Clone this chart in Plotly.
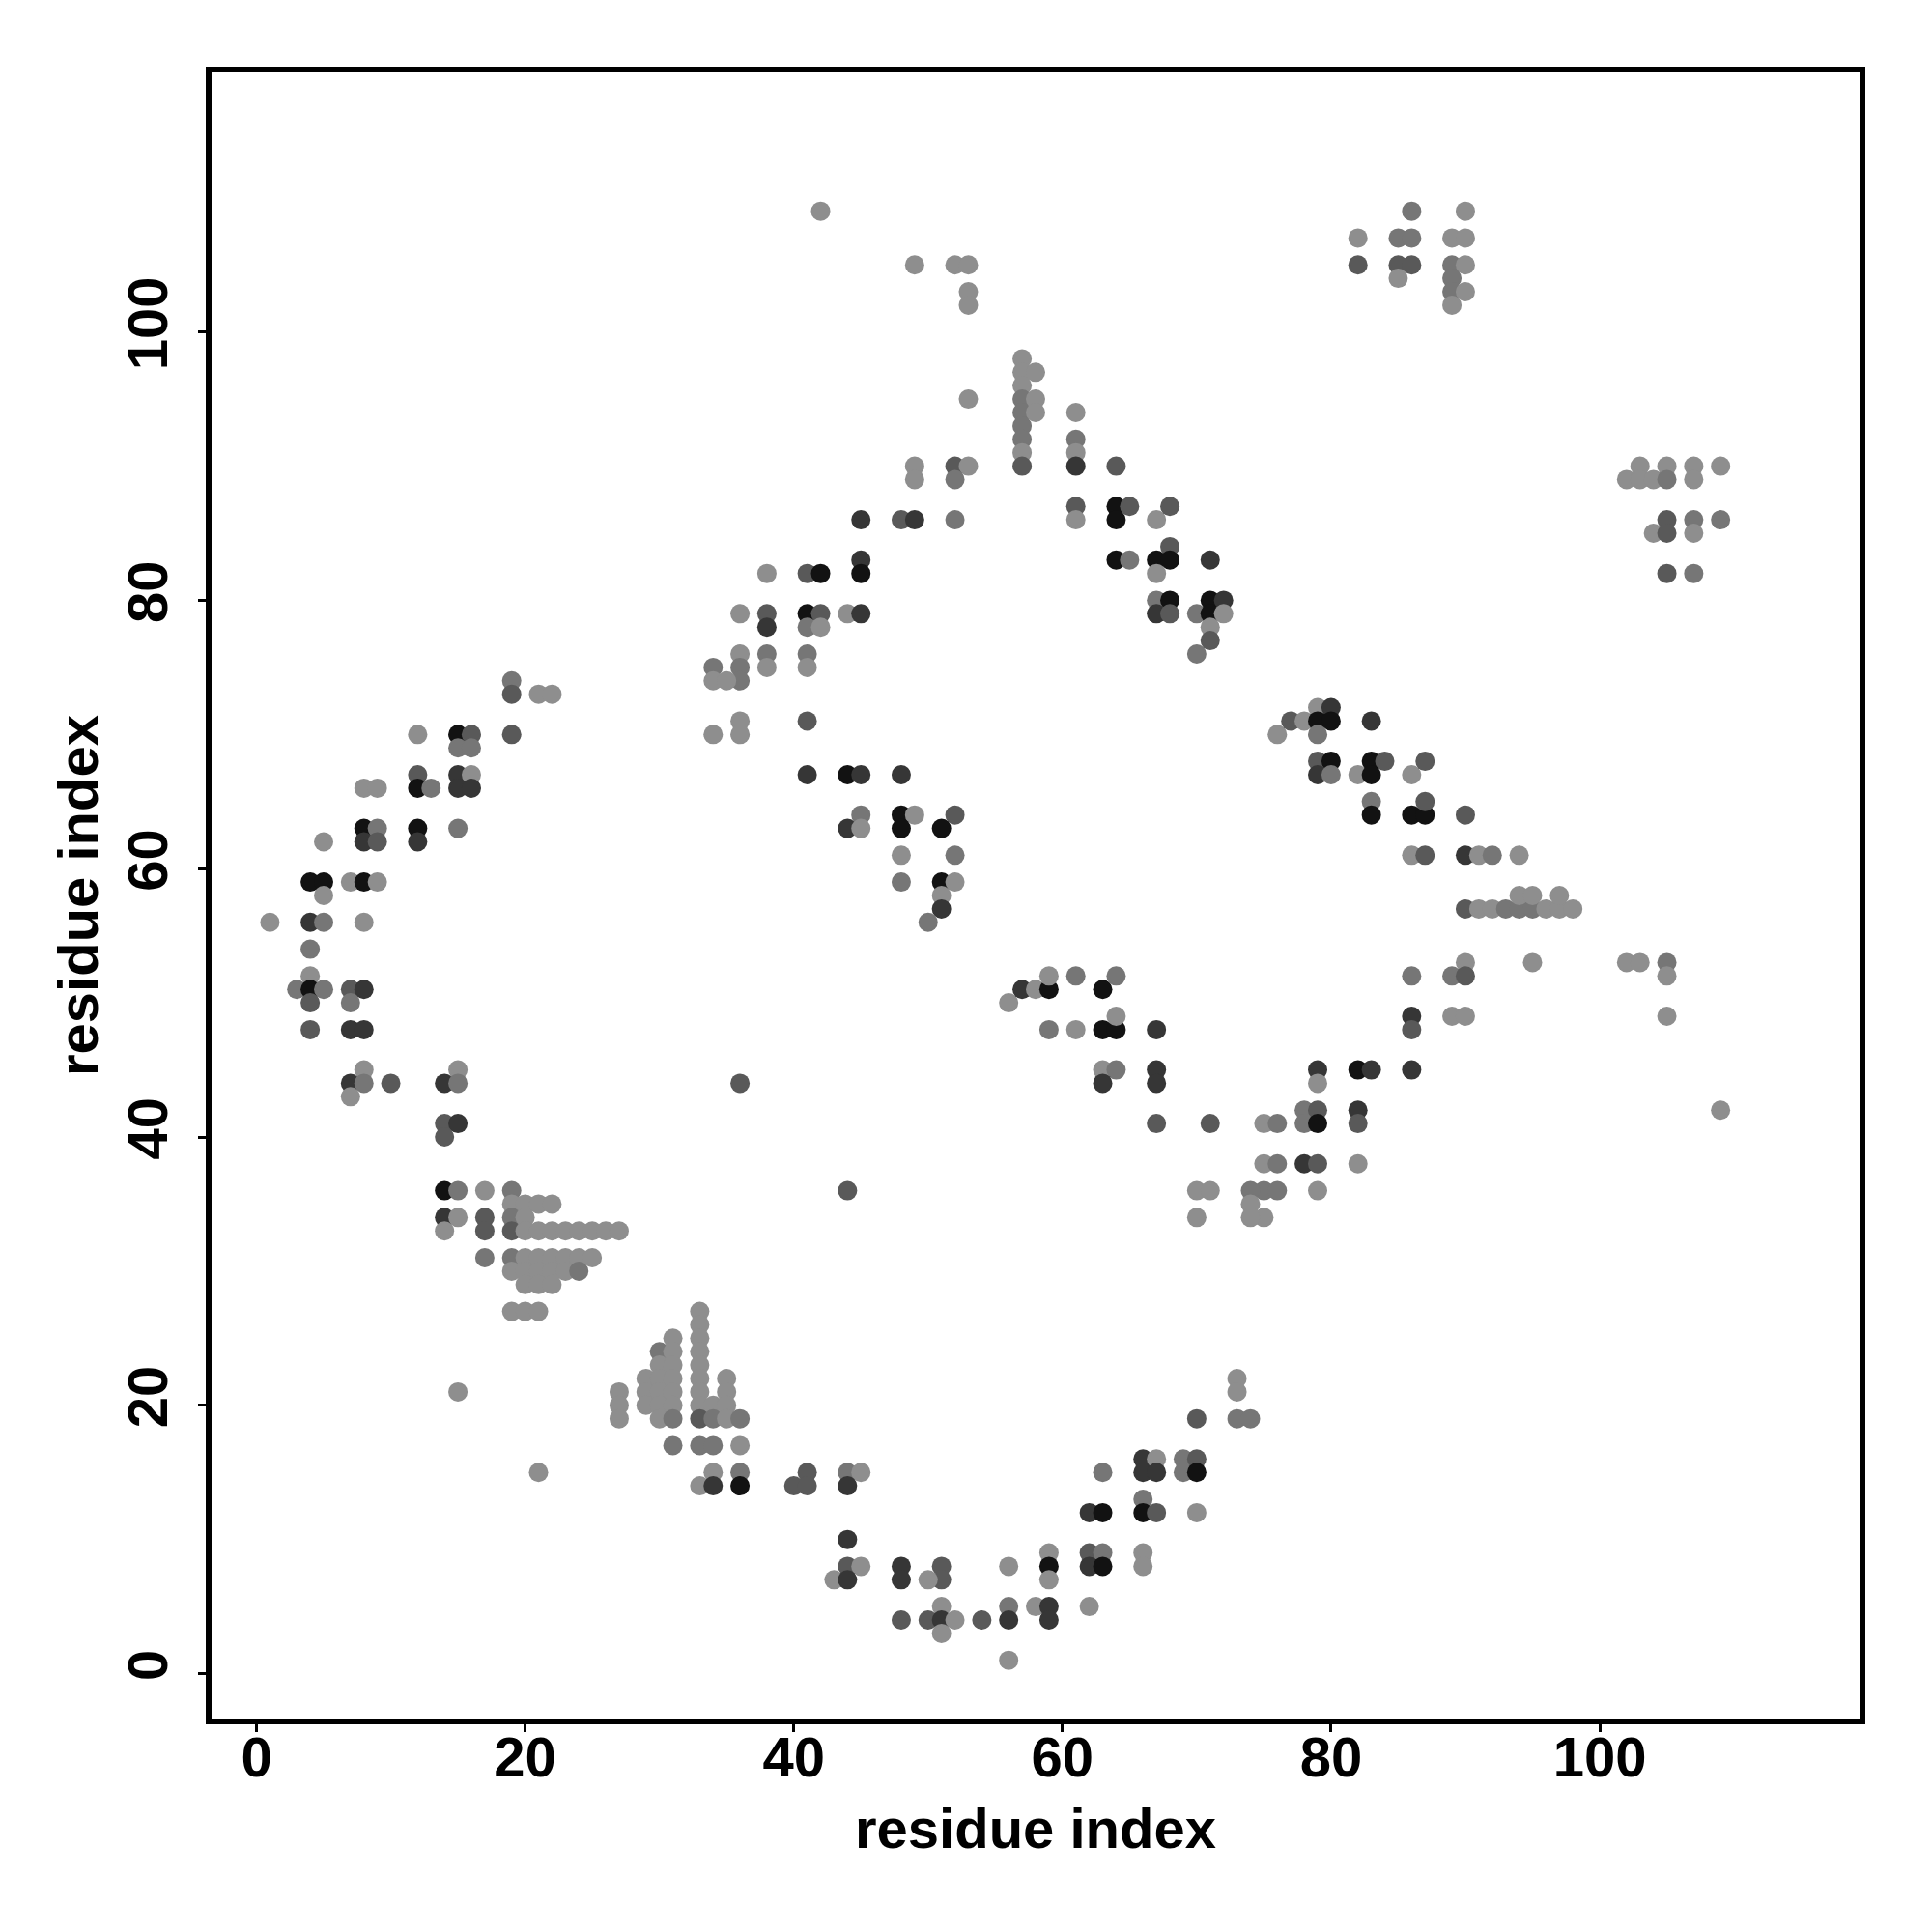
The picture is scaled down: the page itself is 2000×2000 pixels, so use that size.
import plotly.graph_objects as go

# contacts as (residue i, residue j, grey level 1=light .. 5=black)
left_arc = [
    (19,74,2),(19,73,3),(21,73,1),(22,73,1),
    (12,70,1),(15,70,5),(16,70,3),(19,70,3),(15,69,2),(16,69,2),
    (12,67,3),(12,66,5),(13,66,2),(15,67,4),(16,67,1),(15,66,4),(16,66,4),
    (8,66,1),(9,66,1),(8,63,5),(9,63,2),(8,62,4),(9,62,3),(12,63,5),(12,62,4),
    (15,63,2),(5,62,1),(4,59,5),(5,59,5),(5,58,1),(7,59,1),(8,59,5),(9,59,1),
    (1,56,1),(4,56,4),(5,56,2),(8,56,1),(4,54,2),
    (4,52,1),(3,51,2),(4,51,5),(5,51,2),(4,50,3),(7,51,3),(8,51,4),(7,50,2),
    (4,48,3),(7,48,4),(8,48,4),(8,45,1),(7,44,4),(8,44,2),(7,43,1),(10,44,3),
    (15,45,1),(14,44,4),(15,44,2),(14,41,3),(15,41,4),(14,40,3),
]

lower_left = [
    (14,36,5),(15,36,2),(17,36,1),(19,36,2),
    (19,35,1),(20,35,1),(21,35,1),(22,35,1),
    (14,34,4),(15,34,1),(17,34,3),(19,34,2),(20,34,1),
    (14,33,1),(17,33,3),(19,33,3),(20,33,1),(21,33,1),(22,33,1),(23,33,1),
    (24,33,1),(25,33,1),(26,33,1),(27,33,1),
    (17,31,2),(19,31,2),(20,31,1),(21,31,1),(22,31,1),(23,31,1),(24,31,1),(25,31,1),
    (19,30,1),(20,30,1),(21,30,1),(22,30,1),(23,30,1),(24,30,2),
    (20,29,1),(21,29,1),(22,29,1),(19,27,1),(20,27,1),(21,27,1),
    (15,21,1),(21,15,1),
    (27,21,1),(27,20,1),(27,19,1),(29,22,1),(29,21,1),(29,20,1),
    (30,24,2),(30,23,1),(30,22,1),(30,21,1),(30,20,1),(30,19,1),
    (31,25,1),(31,24,1),(31,23,1),(31,22,1),(31,21,1),(31,20,1),(31,19,2),(31,17,2),
    (33,27,1),(33,26,1),(33,25,1),(33,24,1),(33,23,1),(33,22,1),(33,21,1),(33,20,1),
    (33,19,3),(33,17,2),(33,14,1),
    (34,20,1),(34,19,2),(34,17,2),(34,15,1),(34,14,4),
    (35,22,1),(35,21,1),(35,20,1),(35,19,1),
    (36,19,2),(36,17,1),(36,15,2),(36,14,5),
    (36,44,3),(44,36,3),
]

bottom_arc = [
    (41,15,3),(40,14,3),(41,14,3),(44,15,2),(45,15,1),(44,14,4),(44,10,4),
    (44,8,3),(45,8,1),(43,7,1),(44,7,4),(48,8,4),(48,7,4),(48,4,3),
    (51,8,3),(51,7,3),(50,7,1),(51,5,1),(50,4,3),(51,4,4),(52,4,1),(51,3,1),
    (54,4,3),(56,8,1),(56,5,2),(56,4,4),(56,1,1),
    (58,5,1),(59,5,4),(59,4,4),(59,9,1),(59,8,5),(59,7,1),
    (62,9,3),(63,9,2),(62,8,4),(63,8,5),(62,5,1),(62,12,4),(63,12,5),(63,15,2),
    (66,9,1),(66,8,1),(66,13,2),(66,12,5),(67,12,3),
    (66,16,4),(67,16,1),(66,15,4),(67,15,4),
    (69,16,2),(70,16,3),(69,15,2),(70,15,5),(70,12,1),(70,19,3),
    (73,19,2),(74,19,2),(73,22,1),(73,21,1),
]

upper_diag = [
    (57,98,1),(57,97,1),(57,96,1),(57,95,2),(57,94,2),(57,93,2),(57,92,2),(57,91,1),(57,90,3),
    (58,97,1),(58,95,1),(58,94,1),(53,95,1),
    (49,90,1),(49,89,1),(52,90,3),(53,90,1),(52,89,2),
    (45,86,4),(48,86,3),(49,86,4),(52,86,2),
    (45,83,4),(45,82,5),(38,82,1),(41,82,3),(42,82,5),
    (36,79,1),(38,79,3),(38,78,4),(41,79,5),(42,79,3),(41,78,2),(42,78,1),(44,79,1),(45,79,4),
    (36,76,1),(36,75,2),(36,74,2),(34,75,2),(34,74,1),(35,74,1),
    (38,76,2),(38,75,1),(41,76,2),(41,75,1),
    (34,70,1),(36,71,1),(36,70,1),(41,71,3),
    (41,67,4),(44,67,5),(45,67,4),(48,67,4),
    (45,64,2),(44,63,4),(45,63,1),(48,64,5),(49,64,1),(48,63,5),(52,64,3),(51,63,5),
    (48,61,1),(52,61,2),(48,59,2),(51,59,5),(52,59,1),(51,58,1),(51,57,4),(50,56,2),
]

upper_right_diag = [
    (61,94,1),(61,92,2),(61,91,1),(61,90,4),(64,90,3),
    (61,87,3),(61,86,1),(64,87,5),(64,86,5),(65,87,3),
    (67,86,1),(68,87,3),(68,84,3),(67,83,5),(68,83,5),(64,83,5),(65,83,2),(67,82,1),(71,83,4),
    (67,80,2),(68,80,5),(67,79,4),(68,79,3),(70,79,2),(71,80,5),(72,80,4),(71,79,5),
    (72,79,1),(71,78,1),(71,77,3),(70,76,2),
]

top_patches = [
    (42,109,1),(49,105,1),(52,105,1),(53,105,1),(53,103,1),(53,102,1),
    (86,109,2),(90,109,1),(82,107,1),(82,105,3),(85,107,2),(86,107,2),(85,105,3),
    (86,105,3),(85,104,1),(89,107,1),(90,107,1),(89,105,2),(90,105,1),(89,104,2),
    (89,103,2),(90,103,1),(89,102,1),
]

right_arc = [
    (79,72,1),(80,72,4),(76,70,1),(77,71,3),(78,71,1),(79,71,5),(80,71,5),(79,70,2),(83,71,4),
    (79,68,3),(80,68,5),(79,67,4),(80,67,2),(82,67,1),(83,68,5),(84,68,3),(83,67,5),
    (86,67,1),(87,68,3),(83,65,2),(83,64,5),(86,64,5),(87,64,5),(87,65,3),(90,64,3),
    (86,61,1),(87,61,3),(90,61,4),(91,61,1),(92,61,2),(94,61,1),
    (90,57,3),(91,57,1),(92,57,1),(93,57,2),(94,57,2),(95,57,2),(96,57,1),(97,57,1),(98,57,1),
    (94,58,1),(95,58,1),(97,58,1),
    (90,53,1),(95,53,1),(86,52,2),(89,52,2),(90,52,3),
    (86,49,4),(86,48,3),(89,49,1),(90,49,1),
    (79,45,4),(79,44,1),(82,45,5),(83,45,4),(86,45,4),
    (78,42,2),(79,42,3),(78,41,2),(79,41,5),(82,42,4),(82,41,3),
    (75,41,1),(76,41,2),(75,38,1),(76,38,2),(78,38,4),(79,38,3),(82,38,1),
    (75,36,2),(76,36,2),(79,36,1),(75,34,1),
]

center_arc = [
    (56,50,1),(57,51,4),(58,51,1),(59,51,5),(59,52,1),(61,52,2),(63,51,5),(64,52,2),
    (59,48,2),(61,48,1),(63,48,5),(64,48,5),(64,49,1),(67,48,4),
    (63,45,1),(64,45,2),(63,44,4),(67,45,4),(67,44,4),
    (67,41,3),(71,41,3),
    (70,36,1),(71,36,1),(70,34,1),(74,36,2),(74,35,1),(74,34,1),
]

far_right = [
    (103,90,1),(105,90,1),(107,90,1),(109,90,1),
    (102,89,1),(103,89,1),(104,89,1),(105,89,2),(107,89,1),
    (105,86,3),(107,86,2),(109,86,2),(104,85,1),(105,85,3),(107,85,1),(105,82,3),(107,82,2),
    (102,53,1),(103,53,1),(105,53,2),(105,52,1),(105,49,1),(109,42,1),
]

x_ticks = [0, 20, 40, 60, 80, 100]
y_ticks = [0, 20, 40, 60, 80, 100]
axis_label = "residue index"

grey = {1: "#8e8e8e", 2: "#767676", 3: "#595959", 4: "#363636", 5: "#121212"}

contacts = (left_arc + lower_left + bottom_arc + upper_diag + upper_right_diag
            + top_patches + right_arc + center_arc + far_right)
xs = [c[0] for c in contacts]
ys = [c[1] for c in contacts]
cols = [grey[c[2]] for c in contacts]

fig = go.Figure(go.Scatter(
    x=xs, y=ys, mode="markers",
    marker=dict(size=20, color=cols, line=dict(width=0)),
    hoverinfo="x+y",
))

font_tick = dict(family="Liberation Sans, Arial, sans-serif", size=58, color="black", weight="bold")

common = dict(
    range=[-3.56, 119.56], showgrid=False, zeroline=False, showline=False,
    ticks="outside", ticklen=10, tickwidth=3, tickcolor="black",
    tickfont=font_tick,
)

L, R, T, B = 208, 80, 64, 226
plot_w = 2000 - L - R

fig.update_layout(
    width=2000, height=2000,
    margin=dict(l=L, r=R, t=T, b=B),
    plot_bgcolor="white", paper_bgcolor="white",
    showlegend=False,
    xaxis=dict(**common, tickvals=x_ticks, ticktext=[str(v) for v in x_ticks],
               ticklabelstandoff=-24,
               title=dict(text=axis_label, font=font_tick, standoff=22)),
    yaxis=dict(**common, tickvals=y_ticks, ticktext=[str(v) for v in y_ticks],
               tickangle=-90, ticklabelstandoff=9),
    annotations=[dict(text=axis_label, font=font_tick, textangle=-90,
                      xref="paper", yref="paper", x=(72 - L) / plot_w, y=0.5,
                      xanchor="center", yanchor="middle", showarrow=False)],
    shapes=[dict(type="rect", xref="paper", yref="paper", x0=0, x1=1, y0=0, y1=1,
                 line=dict(color="black", width=6), fillcolor="rgba(0,0,0,0)", layer="above")],
)

fig.write_html("out.html")
